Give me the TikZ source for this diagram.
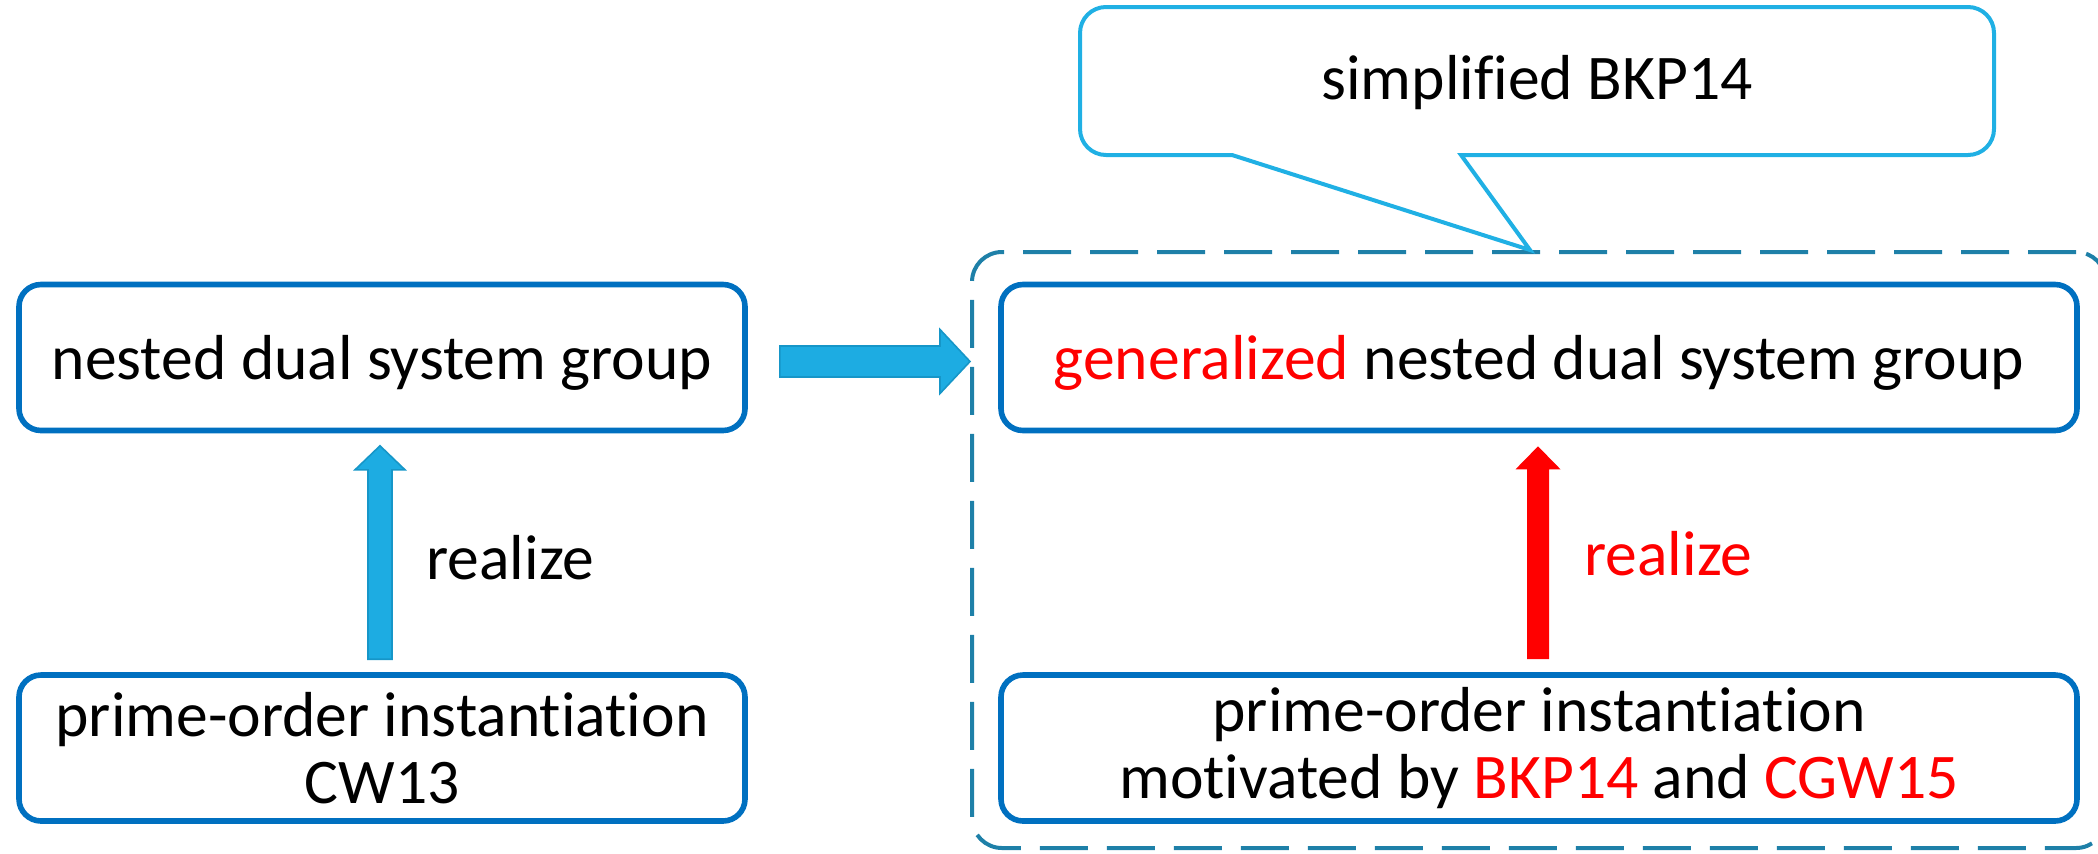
\documentclass[tikz,border=0pt]{standalone}
\usepackage{fontspec}
\setmainfont{Carlito}[Ligatures=CommonOff]
\usetikzlibrary{calc}
\definecolor{boxblue}{RGB}{0,112,192}
\definecolor{arrowfill}{RGB}{29,172,226}
\definecolor{arrowedge}{RGB}{22,150,200}
\definecolor{callblue}{RGB}{32,176,228}
\definecolor{groupblue}{RGB}{30,128,168}
\definecolor{hired}{RGB}{255,0,0}

% block arrow: style, start, tip, shaft half-width, head half-width, head length
\newcommand\blockarrow[6]{%
  \coordinate (ba-h) at ($(#3)!#6!(#2)$);
  \path[#1] ($(#2)!#4!90:(#3)$) -- ($(ba-h)!#4!-90:(#2)$) -- ($(ba-h)!#5!-90:(#2)$)
    -- (#3) -- ($(ba-h)!#5!90:(#2)$) -- ($(ba-h)!#4!90:(#2)$) -- ($(#2)!#4!-90:(#3)$) -- cycle;
}

\begin{document}
\begin{tikzpicture}[x=0.5pt,y=-0.5pt,
  txt/.style={font=\fontsize{31.8}{33.5}\selectfont},
  box/.style={txt, draw=boxblue, line width=2.8pt, rounded corners=11pt,
    minimum height=73pt, inner sep=0pt, align=center},
  oneline/.style={text height=28pt, text depth=6pt},
  group/.style={draw=groupblue, line width=2pt, rounded corners=15pt,
    dash pattern=on 24pt off 9.5pt, inner sep=0pt},
  callout/.style={draw=callblue, line width=2pt},
  bluearrow/.style={fill=arrowfill, draw=arrowedge, line width=0.8pt},
  redarrow/.style={fill=hired},
  lbl/.style={txt, inner sep=0pt, anchor=west}]
\useasboundingbox (0,0) rectangle (2098,853);

% dashed group around the generalized construction (runs past the right edge)
\begin{scope}
\clip (0,0) rectangle (2098,853);
\node[group, minimum width=567pt, minimum height=298pt] (G) at (1539,550) {};
\end{scope}

% boxes
\node[box, oneline, minimum width=363pt] (A) at (382,357.5) {nested dual system group};
\node[box, minimum width=363pt] (B) at (382,748) {prime-order instantiation\\CW13};
\node[box, oneline, minimum width=538pt] (C) at (1539,357.5)
  {\textcolor{hired}{generalized} nested dual system group};
\node[box, minimum width=538pt] (D) at (1539,748)
  {prime-order instantiation\\motivated by \textcolor{hired}{BKP14} and \textcolor{hired}{CGW15}};

% callout
\node[txt, inner sep=0pt] (S) at (1537,83) {simplified BKP14};
\coordinate (tip) at ($(G.north)+(-9,0)$);
\draw[callout] (tip) -- (1232,155) [rounded corners=13pt] -- (1080,155) -- (1080,7)
  -- (1994,7) -- (1994,155) [sharp corners] -- (1461,155) -- cycle;

% arrows
\coordinate (l0) at ($(B.north)+(-2,-13)$);
\coordinate (l1) at ($(A.south)+(-2,12.5)$);
\blockarrow{bluearrow}{l0}{l1}{6pt}{12.5pt}{12pt}
\node[lbl] (lr) at (426,558) {realize};

\coordinate (h0) at ($(A.east)+(32,4)$);
\coordinate (h1) at (h0 -| G.west);
\blockarrow{bluearrow}{h0}{h1}{7.75pt}{16pt}{15pt}

\coordinate (r0) at ($(D.north)+(-1,-13)$);
\coordinate (r1) at ($(C.south)+(-1,13)$);
\blockarrow{redarrow}{r0}{r1}{5.5pt}{11.25pt}{11.5pt}
\node[lbl, text=hired] (rr) at (1584,554) {realize};
\end{tikzpicture}
\end{document}
